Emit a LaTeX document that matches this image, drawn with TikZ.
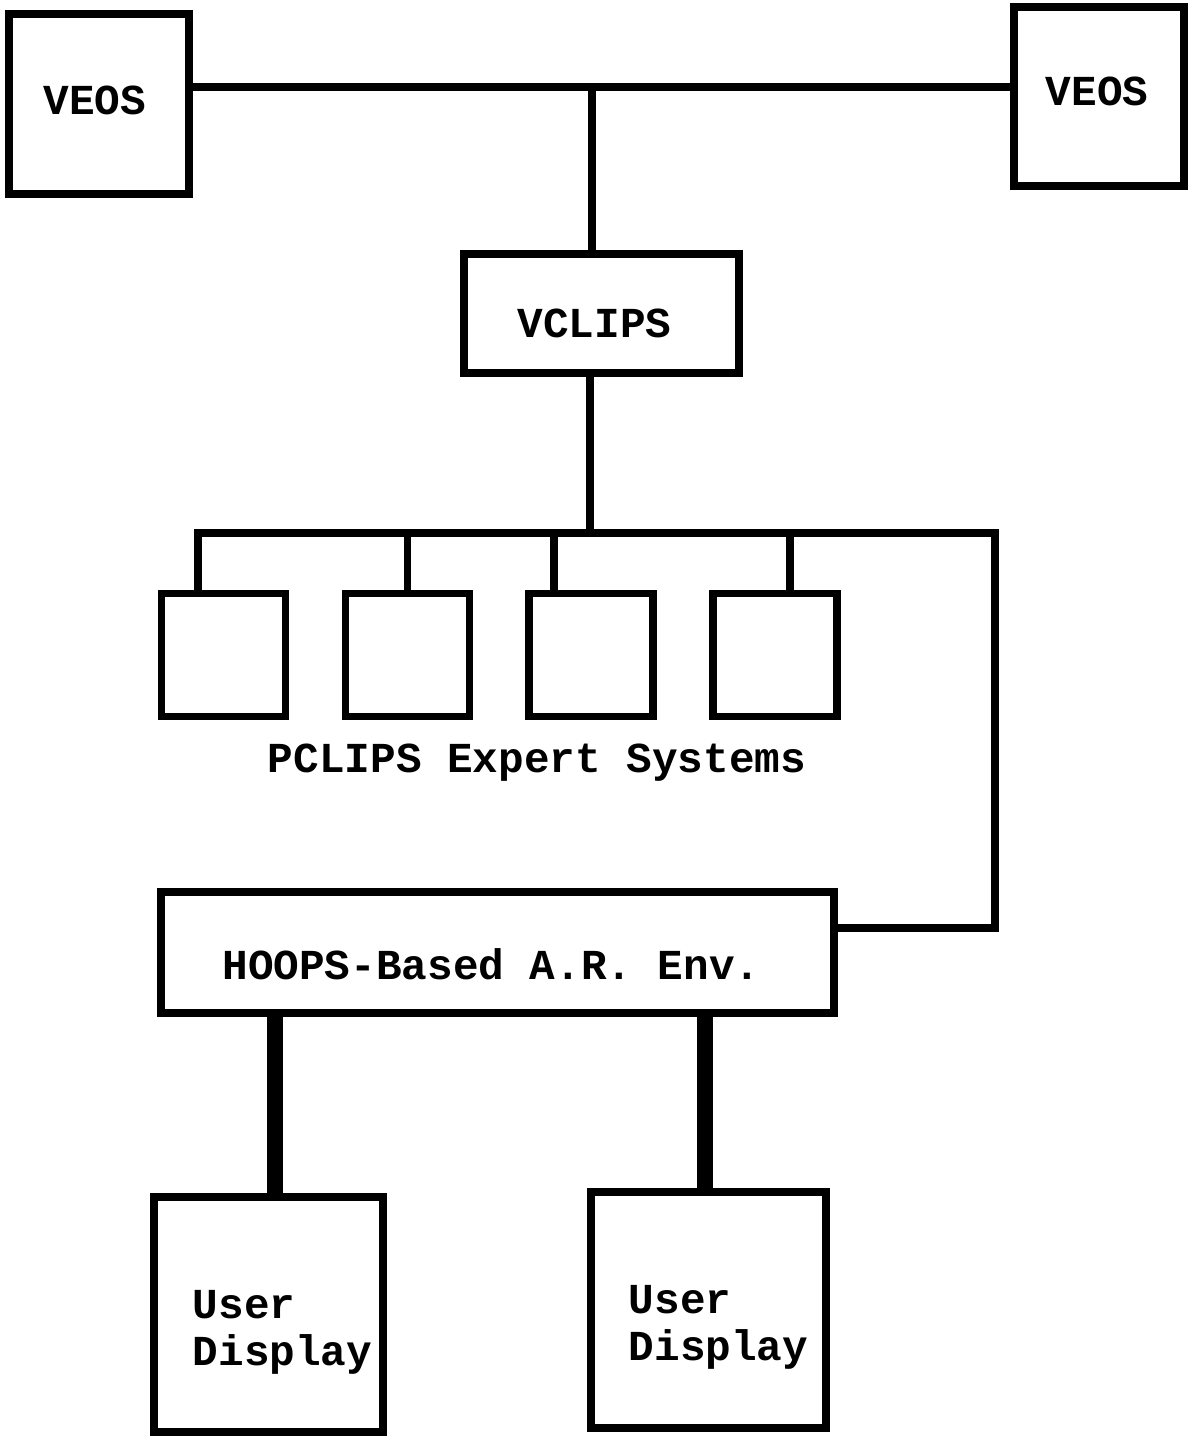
\documentclass[tikz,border=0pt]{standalone}
\usepackage{fontspec}
\setmainfont{Liberation Mono}
\usetikzlibrary{positioning}

\begin{document}
\begin{tikzpicture}[x=0.02cm,y=-0.02cm,node distance=3.68cm,
		line width=4.5pt,font=\fontsize{24.3}{26.7}\selectfont\bfseries]
	\tikzstyle{box}=[draw,rectangle,inner sep=0pt]
	\tikzstyle{pbox}=[box,minimum width=2.48cm,minimum height=2.46cm]
	\tikzstyle{link}=[line width=9pt]

	\useasboundingbox (0,0) rectangle (1194,1439);

	\node[box,minimum width=3.6cm,minimum height=3.6cm,
		label={[xshift=-0.08cm,yshift=0.08cm]center:VEOS}]	(veosl)	at (99,104)	{};
	\node[box,minimum width=3.4cm,minimum height=3.58cm,
		label={[xshift=-0.04cm,yshift=0.1cm]center:VEOS}]	(veosr)	at (1099,96.5)	{};
	\node[box,minimum width=5.5cm,minimum height=2.38cm,
		label={[xshift=-0.14cm,yshift=-0.2cm]center:VCLIPS}]	(vc)	at (601.5,313.5)	{};

	\node[pbox]	(p1)	at (223.5,655)	{};
	\node[pbox]	(p2)	[right of=p1]	{};
	\node[pbox]	(p3)	[right of=p2]	{};
	\node[pbox]	(p4)	[right of=p3]	{};
	\node		(pl)	at (537,763)	{PCLIPS Expert Systems};

	\node[box,minimum width=13.46cm,minimum height=2.42cm,
		label={[xshift=-0.12cm,yshift=-0.24cm]center:HOOPS-Based A.R. Env.}]	(hp)	at (497.5,952.5)	{};

	\node[box,minimum width=4.58cm,minimum height=4.7cm,
		label={[align=left,xshift=0.28cm,yshift=-0.36cm]center:User\\Display}]	(ud1)	at (268.5,1314.5)	{};
	\node[box,minimum width=4.7cm,minimum height=4.72cm,
		label={[align=left,xshift=0.2cm,yshift=-0.34cm]center:User\\Display}]	(ud2)	at (708.5,1310)	{};

	\coordinate (top)	at (592,87);
	\coordinate (mid)	at (590,533);
	\coordinate (corner)	at (995,533);

	% network to VCLIPS
	\draw (veosl.east |- top) -- (veosr.west |- top);
	\draw (top) -- (top |- vc.north);
	\draw (vc.south -| mid) -- (mid);

	% bus to the expert systems and the A.R. env.
	\draw ([xshift=-0.51cm]p1.north) |- (corner) |- ([yshift=0.49cm]hp.east);
	\draw (p2.north) -- (p2.north |- corner);
	\draw ([xshift=-0.75cm]p3.north) -- ([xshift=-0.75cm]p3.north |- corner);
	\draw ([xshift=0.29cm]p4.north) -- ([xshift=0.29cm]p4.north |- corner);

	% displays
	\draw[link] ([xshift=0.13cm]ud1.north) -- ([xshift=0.13cm]ud1.north |- hp.south);
	\draw[link] ([xshift=-0.07cm]ud2.north) -- ([xshift=-0.07cm]ud2.north |- hp.south);
\end{tikzpicture}
\end{document}
